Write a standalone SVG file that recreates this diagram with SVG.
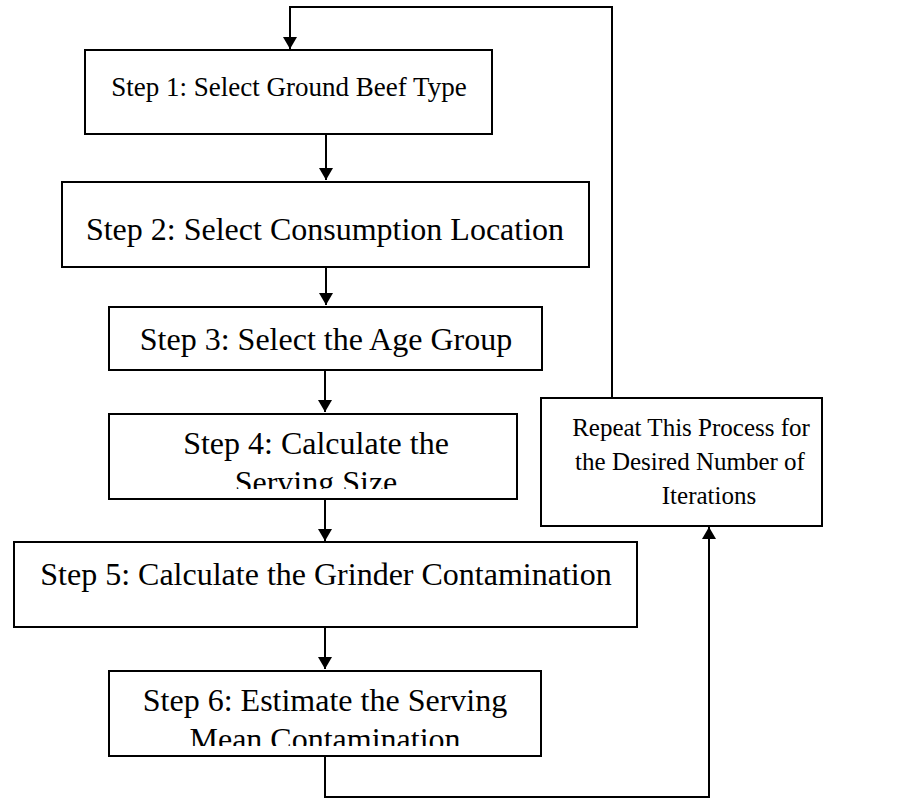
<svg xmlns="http://www.w3.org/2000/svg" width="915" height="799" viewBox="0 0 915 799">
<defs>
<style>
.box{fill:#fff;stroke:#000;stroke-width:2}
.t{font-family:"Liberation Serif","Times New Roman",serif;font-size:32px;fill:#000;text-anchor:middle}
.s1{font-size:27px}
.rp{font-size:25px}
.c{fill:none;stroke:#000;stroke-width:2}
</style>
<marker id="ah" markerWidth="12" markerHeight="14" viewBox="0 0 12 14" refX="12" refY="7" orient="auto" markerUnits="userSpaceOnUse">
<path d="M0,0 L12,7 L0,14 Z" fill="#000"/>
</marker>
<clipPath id="c4"><rect x="109" y="414" width="408" height="75"/></clipPath>
<clipPath id="c6"><rect x="109" y="671" width="432" height="75"/></clipPath>
</defs>
<rect width="915" height="799" fill="#fff"/>
<g id="connectors">
<path class="c" d="M612,398 V7 H290 V49" marker-end="url(#ah)"/>
<path class="c" d="M326,134 V180" marker-end="url(#ah)"/>
<path class="c" d="M326,267 V305" marker-end="url(#ah)"/>
<path class="c" d="M325,370 V412" marker-end="url(#ah)"/>
<path class="c" d="M325,499 V541" marker-end="url(#ah)"/>
<path class="c" d="M325,627 V669" marker-end="url(#ah)"/>
<path class="c" d="M325,756 V797 H709 V527" marker-end="url(#ah)"/>
</g>
<g id="step1">
<rect class="box" x="85" y="50" width="407" height="84"/>
<text class="t s1" x="289" y="96">Step 1: Select Ground Beef Type</text>
</g>
<g id="step2">
<rect class="box" x="62" y="182" width="527" height="85"/>
<text class="t" x="325" y="240">Step 2: Select Consumption Location</text>
</g>
<g id="step3">
<rect class="box" x="109" y="307" width="433" height="63"/>
<text class="t" x="326" y="350">Step 3: Select the Age Group</text>
</g>
<g id="step4">
<rect class="box" x="109" y="414" width="408" height="85"/>
<g clip-path="url(#c4)">
<text class="t" x="316" y="454">Step 4: Calculate the</text>
<text class="t" x="316" y="493">Serving Size</text>
</g>
</g>
<g id="step5">
<rect class="box" x="14" y="542" width="623" height="85"/>
<text class="t" x="326" y="585">Step 5: Calculate the Grinder Contamination</text>
</g>
<g id="step6">
<rect class="box" x="109" y="671" width="432" height="85"/>
<g clip-path="url(#c6)">
<text class="t" x="325" y="711">Step 6: Estimate the Serving</text>
<text class="t" x="325" y="750">Mean Contamination</text>
</g>
</g>
<g id="repeat">
<rect class="box" x="541" y="398" width="281" height="128"/>
<text class="t rp" x="691" y="436">Repeat This Process for</text>
<text class="t rp" x="690" y="470">the Desired Number of</text>
<text class="t rp" x="709" y="504">Iterations</text>
</g>
</svg>
